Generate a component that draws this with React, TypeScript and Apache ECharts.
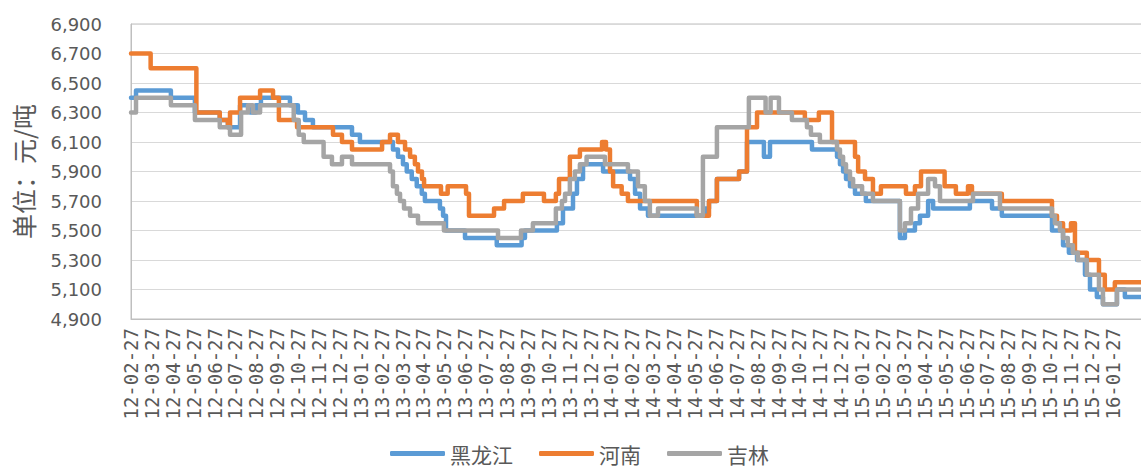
import React, { useEffect, useRef } from "react";
import * as echarts from "echarts";

const monthLabels = [
  "12-02-27", "12-03-27", "12-04-27", "12-05-27", "12-06-27", "12-07-27", "12-08-27", "12-09-27", "12-10-27", "12-11-27", "12-12-27",
  "13-01-27", "13-02-27", "13-03-27", "13-04-27", "13-05-27", "13-06-27", "13-07-27", "13-08-27", "13-09-27", "13-10-27", "13-11-27", "13-12-27",
  "14-01-27", "14-02-27", "14-03-27", "14-04-27", "14-05-27", "14-06-27", "14-07-27", "14-08-27", "14-09-27", "14-10-27", "14-11-27", "14-12-27",
  "15-01-27", "15-02-27", "15-03-27", "15-04-27", "15-05-27", "15-06-27", "15-07-27", "15-08-27", "15-09-27", "15-10-27", "15-11-27", "15-12-27",
  "16-01-27",
];

const seriesNames = ["黑龙江", "河南", "吉林"];

// [months since 12-02-27, price] — each price holds until the next point
const heilongjiang: [number, number][] = [
  [0, 6400], [0.24, 6450], [1.91, 6400], [3.06, 6300], [4.25, 6250], [4.64, 6200], [5.22, 6350], [5.7, 6300],
  [5.98, 6350], [6.22, 6400], [7.61, 6350], [7.99, 6300], [8.33, 6250], [8.71, 6200], [10.58, 6150], [10.96, 6100],
  [12.54, 6050], [12.78, 6000], [13.02, 5950], [13.2, 5900], [13.44, 5850], [13.68, 5800], [13.92, 5750], [14.07, 5700],
  [14.79, 5650], [14.94, 5600], [15.08, 5500], [15.99, 5450], [17.51, 5400], [18.7, 5450], [18.86, 5500], [20.39, 5550],
  [20.68, 5650], [21.16, 5750], [21.35, 5850], [21.64, 5950], [22.6, 5900], [23.89, 5850], [24.13, 5750], [24.37, 5650],
  [24.75, 5600], [27.48, 5650], [27.67, 5700], [28.05, 5850], [29.11, 5900], [29.49, 6100], [30.3, 6000], [30.59, 6100],
  [32.6, 6050], [33.8, 6000], [33.94, 5950], [34.09, 5900], [34.23, 5850], [34.42, 5800], [34.66, 5750], [35.18, 5700],
  [36.81, 5450], [37.05, 5500], [37.53, 5550], [37.77, 5600], [38.16, 5700], [38.4, 5650], [40.16, 5700], [41.22, 5650],
  [41.69, 5600], [44.09, 5500], [44.62, 5400], [44.9, 5350], [45.29, 5300], [45.67, 5200], [45.91, 5100], [46.24, 5050],
  [46.53, 5000], [47.2, 5100], [47.58, 5050], [48.4, 5050],
];

const henan: [number, number][] = [
  [0, 6700], [0.94, 6600], [3.13, 6300], [4.25, 6250], [4.64, 6200], [4.74, 6300], [5.22, 6400], [6.18, 6450],
  [6.8, 6400], [7.08, 6250], [7.95, 6200], [9.67, 6150], [10.1, 6100], [10.58, 6050], [12.02, 6100], [12.4, 6150],
  [12.78, 6100], [13.12, 6050], [13.36, 6000], [13.59, 5950], [13.74, 5900], [13.93, 5850], [14.03, 5800], [14.84, 5750],
  [15.16, 5800], [16.04, 5750], [16.18, 5600], [17.38, 5650], [17.86, 5700], [18.76, 5750], [19.77, 5700], [20.34, 5750],
  [20.49, 5850], [21.01, 6000], [21.49, 6050], [22.55, 6100], [22.74, 6050], [22.93, 5900], [23.08, 5800], [23.49, 5750],
  [23.79, 5700], [27.09, 5600], [27.67, 5700], [28.05, 5850], [29.11, 5900], [29.49, 6200], [29.97, 6300], [32.26, 6250],
  [32.93, 6300], [33.56, 6100], [34.66, 6000], [34.81, 5900], [35.14, 5850], [35.52, 5750], [35.9, 5800], [37.1, 5750],
  [37.53, 5800], [37.82, 5900], [38.95, 5800], [39.49, 5750], [40.07, 5800], [40.26, 5750], [41.69, 5700], [44.09, 5600],
  [44.33, 5550], [44.62, 5500], [45.0, 5550], [45.19, 5350], [45.76, 5300], [46.34, 5200], [46.62, 5100], [47.1, 5150],
  [48.4, 5150],
];

const jilin: [number, number][] = [
  [0, 6300], [0.24, 6400], [1.91, 6350], [3.06, 6250], [4.25, 6200], [4.74, 6150], [5.27, 6300], [5.6, 6350],
  [5.84, 6300], [6.18, 6350], [7.79, 6250], [8.03, 6150], [8.27, 6100], [9.22, 6000], [9.62, 5950], [10.1, 6000],
  [10.58, 5950], [12.4, 5900], [12.54, 5800], [12.73, 5750], [12.88, 5700], [13.07, 5650], [13.36, 5600], [13.74, 5550],
  [14.98, 5500], [17.57, 5450], [18.67, 5500], [19.24, 5550], [20.34, 5650], [20.63, 5700], [20.78, 5750], [21.01, 5850],
  [21.25, 5900], [21.49, 5950], [21.81, 6000], [22.69, 5950], [23.79, 5900], [24.27, 5800], [24.6, 5700], [24.84, 5600],
  [25.23, 5650], [27.09, 5600], [27.38, 6000], [28.05, 6200], [29.58, 6400], [30.38, 6300], [30.62, 6400], [31.02, 6300],
  [31.64, 6250], [32.36, 6200], [32.55, 6150], [32.98, 6100], [33.8, 6050], [33.94, 6000], [34.09, 5950], [34.23, 5900],
  [34.42, 5850], [34.57, 5800], [35.0, 5750], [35.52, 5700], [36.81, 5500], [37.05, 5550], [37.34, 5650], [37.68, 5750],
  [38.16, 5850], [38.49, 5800], [38.73, 5700], [40.31, 5750], [41.6, 5650], [44.09, 5600], [44.23, 5550], [44.47, 5500],
  [44.62, 5450], [44.85, 5400], [45.09, 5350], [45.33, 5300], [45.76, 5200], [46.34, 5100], [46.53, 5000], [47.2, 5100],
  [48.4, 5100],
];

const colors = ["#5B9BD5", "#ED7D31", "#A5A5A5"];

export default function App() {
  const ref = useRef<HTMLDivElement>(null);
  useEffect(() => {
    if (!ref.current) return;
    const chart = echarts.init(ref.current, undefined, { renderer: "svg" });
    const textColor = "#595959";
    const seriesData = [heilongjiang, henan, jilin];
    chart.setOption({
      animation: false,
      color: colors,
      grid: {
        left: 131,
        top: 24,
        right: 8,
        bottom: 152,
        show: true,
        borderColor: "#BFBFBF",
        borderWidth: 1,
      },
      legend: {
        data: seriesNames,
        left: 385,
        top: 438,
        itemWidth: 55,
        itemHeight: 5,
        itemGap: 26,
        icon: "roundRect",
        textStyle: { fontSize: 21, lineHeight: 21, color: textColor, fontFamily: "Noto Sans CJK SC" },
      },
      xAxis: {
        type: "value",
        min: 0,
        max: 48.4,
        interval: 1,
        splitLine: { show: false },
        axisLine: { show: true, lineStyle: { color: "#BFBFBF" } },
        axisTick: { show: false },
        axisLabel: {
          rotate: 90,
          margin: 9,
          fontSize: 19,
          color: textColor,
          fontFamily: "DejaVu Sans Mono",
          showMaxLabel: false,
          formatter: (v: number) => monthLabels[Math.round(v)] ?? "",
        },
      },
      yAxis: {
        type: "value",
        min: 4900,
        max: 6900,
        interval: 200,
        name: "单位：元/吨",
        nameLocation: "middle",
        nameRotate: 90,
        nameGap: 96,
        nameTextStyle: { fontSize: 25, color: textColor, fontFamily: "Noto Sans CJK SC" },
        axisLine: { show: true, lineStyle: { color: "#BFBFBF" } },
        axisTick: { show: false },
        splitLine: { lineStyle: { color: "#D9D9D9", width: 1 } },
        axisLabel: {
          margin: 29,
          fontSize: 18,
          color: textColor,
          fontFamily: "DejaVu Sans",
          formatter: (v: number) => v.toLocaleString("en-US"),
        },
      },
      series: seriesNames.map((name, i) => ({
        name,
        type: "line",
        step: "end",
        showSymbol: false,
        symbol: "none",
        data: seriesData[i],
        lineStyle: { width: 4.5, color: colors[i], join: "round", cap: "round" },
        itemStyle: { color: colors[i] },
      })),
    });
    return () => chart.dispose();
  }, []);
  return (
    <div style={{ position: "fixed", left: 0, top: 0, width: 1141, height: 471, overflow: "hidden", background: "#fff" }}>
      <div ref={ref} style={{ width: 1150, height: 471 }} />
    </div>
  );
}
